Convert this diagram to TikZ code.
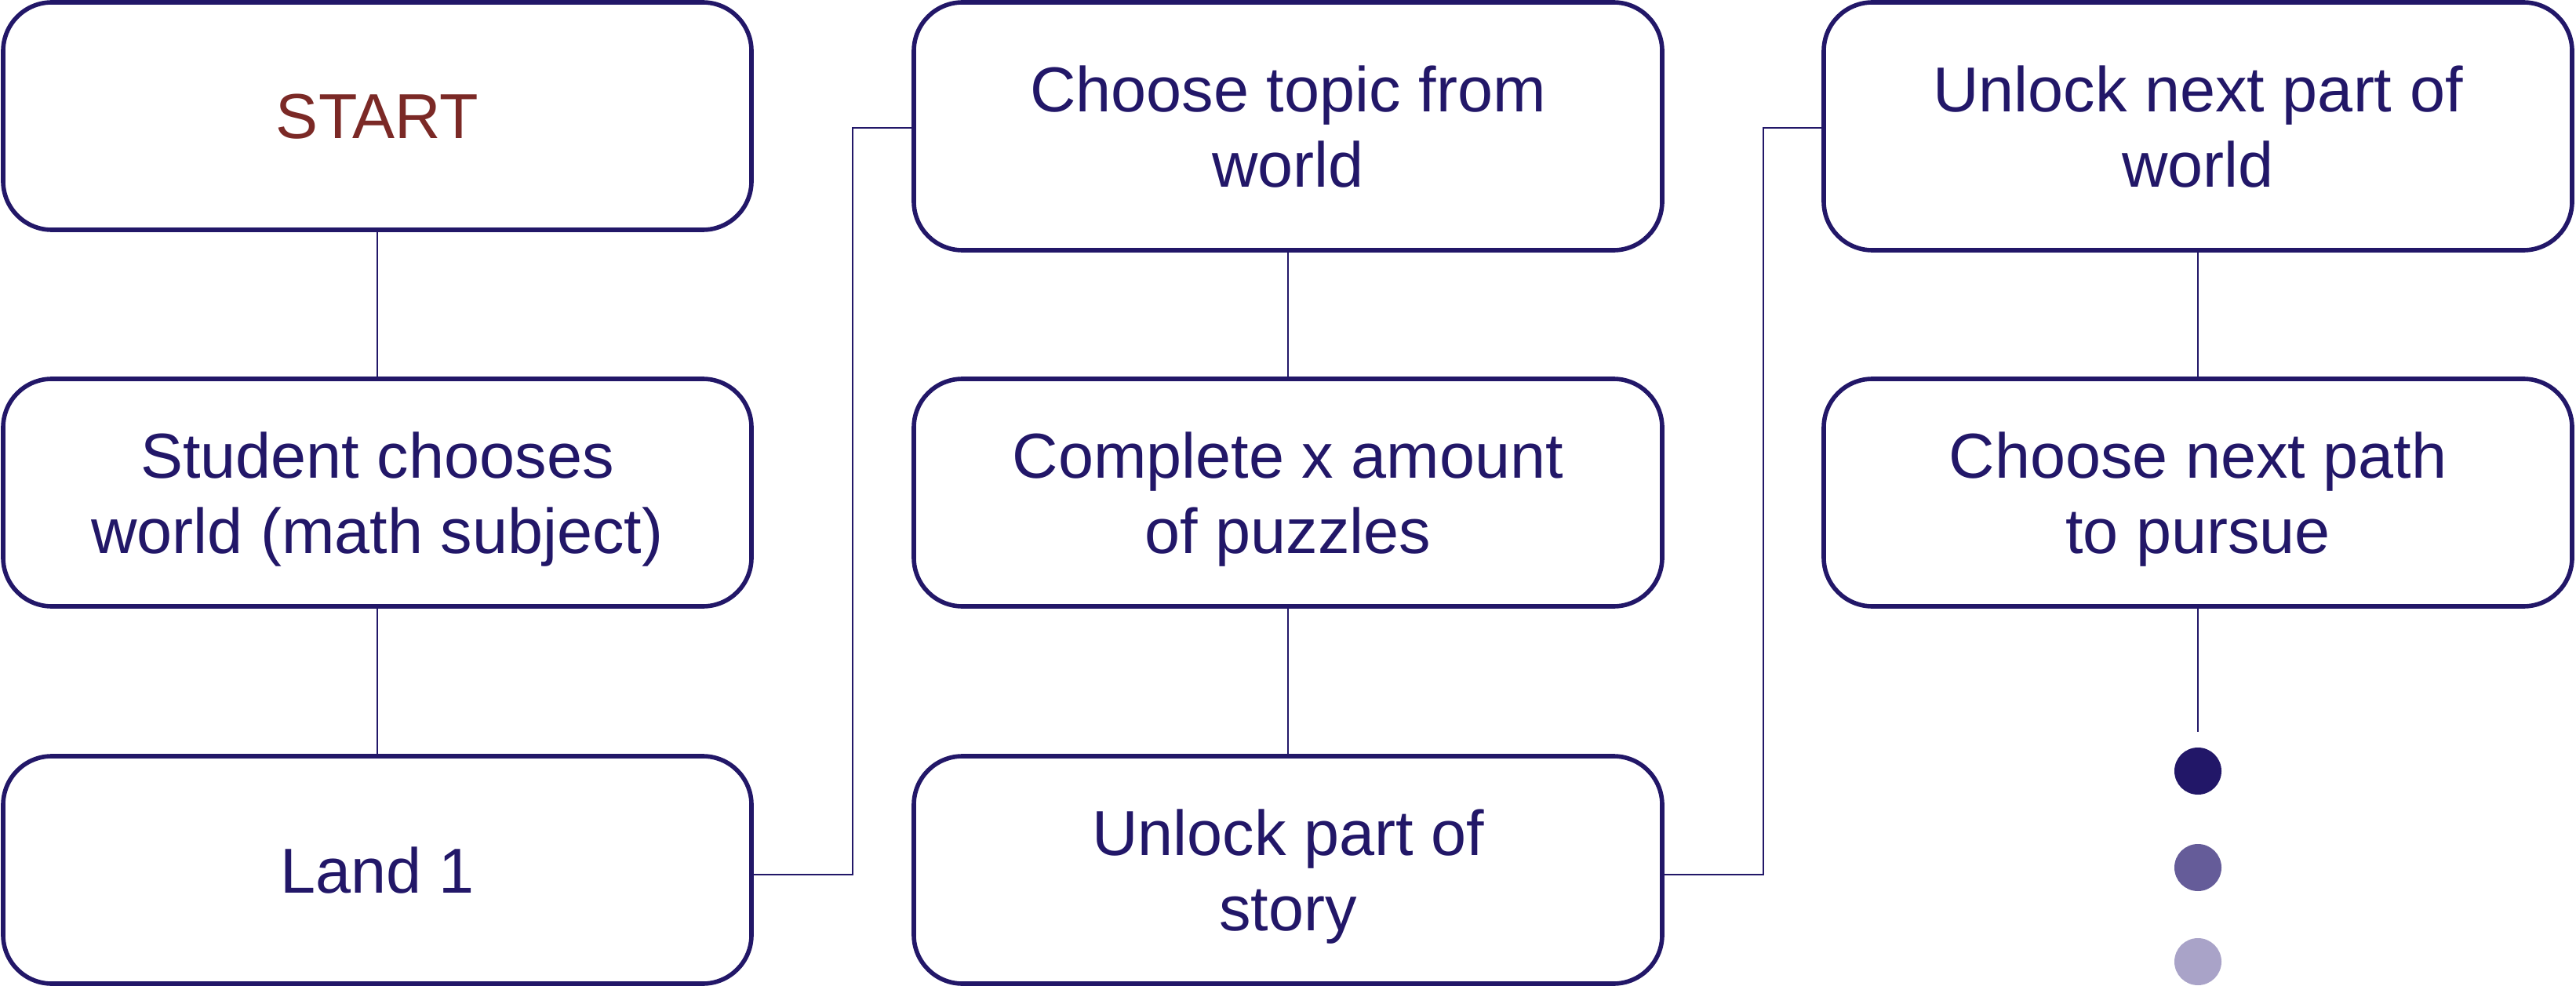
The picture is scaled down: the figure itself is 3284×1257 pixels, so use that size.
\documentclass[tikz,border=0pt]{standalone}
\usepackage{fontspec}
\setmainfont{Liberation Sans}
\usetikzlibrary{positioning}

\definecolor{navy}{RGB}{34,23,104}
\definecolor{startred}{RGB}{123,41,38}
\definecolor{dotmid}{RGB}{101,92,153}
\definecolor{dotlight}{RGB}{169,163,200}

\tikzset{
  box/.style={draw=navy, line width=2.8pt, rounded corners=31pt,
    minimum width=477pt, minimum height=145pt, inner sep=0pt,
    text depth=0pt, align=center, text=navy,
    font=\fontsize{40.5}{48}\selectfont},
  tallbox/.style={box, minimum height=158pt},
  link/.style={draw=navy, line width=1pt},
  dot/.style={circle, inner sep=0pt, minimum size=30pt}
}

\begin{document}
\begin{tikzpicture}[x=0.5pt, y=-0.5pt]

\useasboundingbox (0,0) rectangle (3284,1257);

% first column
\node[box, text=startred] (start) at (481,148) {START};
\node[box] (choose) at (481,628) {Student chooses\\world (math subject)};
\node[box] (land) at (481,1109) {Land 1};

% second column
\node[tallbox] (topic) at (1642,161) {Choose topic from\\world};
\node[box] (puzzles) at (1642,628) {Complete x amount\\of puzzles};
\node[box] (story) at (1642,1109) {Unlock part of\\story};

% third column
\node[tallbox] (unlock) at (2802,161) {Unlock next part of\\world};
\node[box] (path) at (2802,628) {Choose next path\\to pursue};

\foreach \a/\b in {start/choose, choose/land, topic/puzzles, puzzles/story, unlock/path}{%
  \draw[link] (\a) -- (\b);
}

\draw[link] ([yshift=-3pt]land.east) -- ++(126,0) |- ([yshift=-1pt]topic.west);
\draw[link] ([yshift=-3pt]story.east) -- ++(126,0) |- ([yshift=-1pt]unlock.west);

% more to come
\coordinate (tail) at (2802,933);
\draw[link] (path.south) -- (tail);

\foreach \c/\y [count=\i] in {navy/983, dotmid/1106, dotlight/1226}{%
  \node[dot, fill=\c] (dot\i) at (2802,\y) {};
}

\end{tikzpicture}
\end{document}
